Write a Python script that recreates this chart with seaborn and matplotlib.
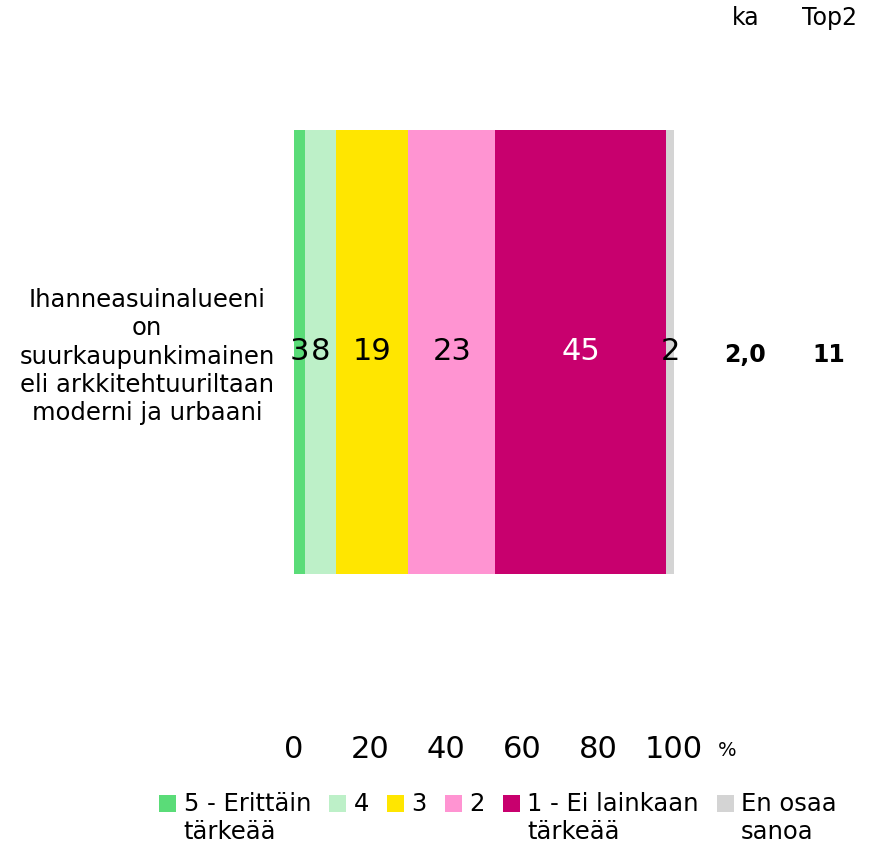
import matplotlib
matplotlib.use("Agg")
import matplotlib.pyplot as plt
import seaborn as sns
import numpy as np
import pandas as pd
from matplotlib.patches import Patch, Rectangle
from matplotlib.legend_handler import HandlerPatch

category = ["Ihanneasuinalueeni\non\nsuurkaupunkimainen\neli arkkitehtuuriltaan\nmoderni ja urbaani"]
series = ["5 - Erittäin\ntärkeää", "4", "3", "2", "1 - Ei lainkaan\ntärkeää", "En osaa\nsanoa"]
values = [3, 8, 19, 23, 45, 2]
colors = ["#5ADC78", "#BDF0C8", "#FFE600", "#FF94D2", "#C8006E", "#D4D4D4"]
label_colors = ["black", "black", "black", "black", "white", "black"]
ka = ["2,0"]
top2 = ["11"]
xticks = [0, 20, 40, 60, 80, 100]

sns.set_theme(style="white")
plt.rcParams['font.family'] = ['DejaVu Sans']
plt.rcParams['text.color'] = 'black'
plt.rcParams['xtick.color'] = 'black'
plt.rcParams['ytick.color'] = 'black'

W, H = 869, 847
fig = plt.figure(figsize=(W / 100, H / 100), dpi=100)
ax = fig.add_axes([294 / W, 1 - 574 / H, 380 / W, 444 / H])

cum = np.cumsum(values)
# draw cumulative bars from largest to smallest so segments stack
for i in range(len(values) - 1, -1, -1):
    df = pd.DataFrame({"cat": category, "val": [cum[i]]})
    sns.barplot(data=df, x="val", y="cat", orient="h", color=colors[i],
                width=1.0, ax=ax, saturation=1, linewidth=0)

ax.set_xlim(0, 100)
ax.set_ylim(0.5, -0.5)
for s in ax.spines.values():
    s.set_visible(False)
ax.set_xlabel("")
ax.set_ylabel("")
ax.set_xticks(xticks)
ax.set_xticklabels([str(t) for t in xticks], fontsize=22)
ax.tick_params(axis="x", length=0, pad=116, colors="black")
ax.tick_params(axis="y", length=0, pad=14, colors="black")
for lab in ax.get_yticklabels():
    lab.set_fontsize(17.5)
    lab.set_multialignment("center")
    lab.set_linespacing(1.22)
    lab.set_color("black")

starts = cum - np.array(values)
for i, v in enumerate(values):
    ax.text(starts[i] + v / 2, 0, str(v), ha="center", va="center",
            fontsize=22, color=label_colors[i])

fig.text(727 / W, 1 - 750 / H, "%", ha="center", va="center", fontsize=14)
fig.text(746 / W, 1 - 18 / H, "ka", ha="center", va="center", fontsize=17)
fig.text(830 / W, 1 - 18 / H, "Top2", ha="center", va="center", fontsize=17)
fig.text(745 / W, 1 - 355 / H, ka[0], ha="center", va="center", fontsize=17, fontweight="bold")
fig.text(829 / W, 1 - 355 / H, top2[0], ha="center", va="center", fontsize=17, fontweight="bold")


def top_patch(legend, orig_handle, xdescent, ydescent, width, height, fontsize):
    return Rectangle((-xdescent, -ydescent + 11), width, height)


legend_labels = [s if "\n" in s else s + "\n " for s in series]
handles = [Patch(facecolor=c, edgecolor="none") for c in colors]
fig.legend(handles, legend_labels, loc="upper center", bbox_to_anchor=(498 / W, 1 - 782 / H),
           ncol=6, frameon=False, fontsize=17.5, handlelength=0.7, handleheight=0.7,
           handletextpad=0.3, columnspacing=0.75, borderaxespad=0,
           handler_map={Patch: HandlerPatch(patch_func=top_patch)})

fig.savefig("out.png", dpi=100)
